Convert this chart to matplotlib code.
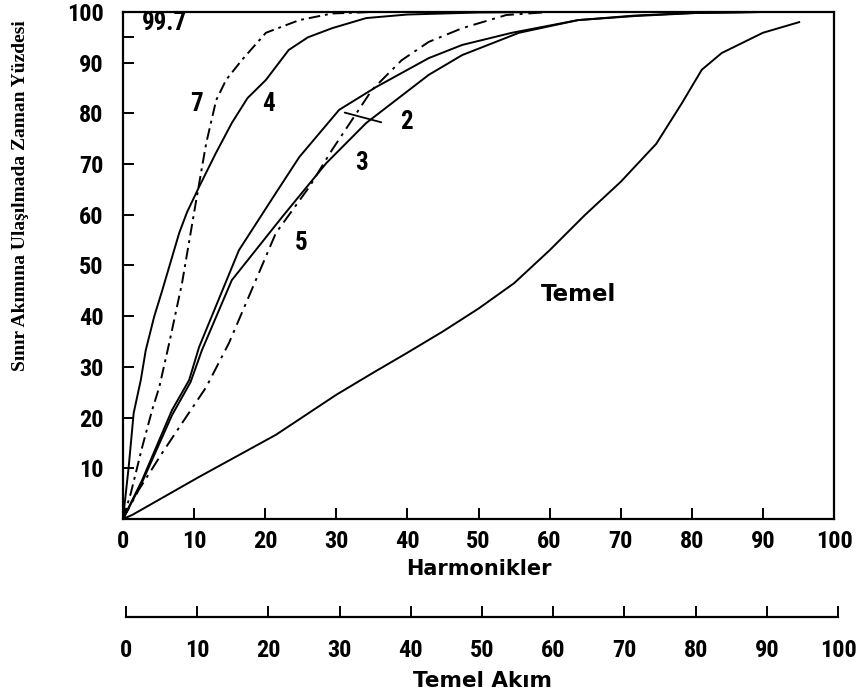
import matplotlib.pyplot as plt
from matplotlib import font_manager

# curve data (x: harmonics %, y: time %)
x7 = [0, 1.1, 2.7, 4.1, 5.1, 6.5, 8.3, 10.3, 11.7, 13.1, 14.5, 16.7, 20.1, 24.8, 29.4, 35]
y7 = [0, 5.1, 14.2, 21.5, 26, 34.7, 46.5, 62.9, 74.1, 82.6, 86.6, 90.5, 95.9, 98.4, 99.7, 100]

x4 = [0, 0.8, 1.5, 2.5, 3.2, 4.4, 5.5, 7.9, 9, 10.7, 13, 15.3, 17.5, 20.1, 23.3, 26, 29.4, 34.2, 40, 50, 60]
y4 = [0, 10.3, 20.9, 27.4, 33.3, 40, 45, 56.4, 60.5, 65.5, 72, 78.1, 83, 86.6, 92.5, 95, 96.8, 98.8, 99.5, 99.9, 100]

x2 = [0, 2.7, 6.9, 9.3, 10.7, 16.3, 21.5, 24.8, 30.4, 35.6, 43, 47.7, 54.7, 64, 72, 80.6, 90]
y2 = [0, 7.7, 21.5, 27.4, 33.9, 53, 64.3, 71.4, 80.7, 85.2, 90.9, 93.5, 95.9, 98.4, 99.2, 99.8, 100]

x3 = [0, 2.7, 6.9, 9.5, 11.1, 15.3, 22.4, 28.6, 34.2, 43, 47.7, 55.7, 64, 72, 80, 90]
y3 = [0, 7.3, 20.5, 27, 33.3, 47.1, 59.6, 70.2, 78.1, 87.6, 91.5, 95.9, 98.4, 99.3, 99.8, 100]

x5 = [0, 2.2, 5.5, 8.3, 11.7, 14.9, 18.1, 21.5, 26.2, 29.4, 32.2, 35, 39.2, 43, 47.7, 53.9, 60]
y5 = [0, 5.7, 13, 18.9, 26, 34.7, 45.2, 56.4, 65.5, 72.8, 78.7, 84.6, 90.5, 94.1, 96.8, 99.4, 100]

x_temel = [0, 1.3, 10.7, 21.5, 30, 35, 40, 45, 50, 55, 60, 65, 70, 75, 78.6, 81.4, 84.2, 90, 95.1]
y_temel = [0, 0.8, 8.3, 16.6, 24.5, 28.7, 32.8, 37, 41.5, 46.5, 53, 60, 66.5, 74, 82, 88.6, 91.9, 95.9, 98]

xticks = list(range(0, 101, 10))
yticks = list(range(10, 101, 10))

# pick a narrow bold face if one is installed
names = {f.name for f in font_manager.fontManager.ttflist}
narrow_fam = 'DejaVu Sans'
for cand in ['Liberation Sans Narrow', 'DejaVu Sans Condensed', 'Roboto Condensed',
             'Open Sans Condensed', 'Noto Sans Condensed']:
    if cand in names:
        narrow_fam = cand
        break
num_size = 17.5 if narrow_fam != 'DejaVu Sans' else 12.5

fig = plt.figure(figsize=(8.59, 6.97), dpi=100)
ax = fig.add_axes([0.1432, 0.2554, 0.8277, 0.7274])

lw = 1.4
ax.plot(x7, y7, color='black', lw=lw, linestyle=(0, (6, 2.5, 1.5, 2.5)))
ax.plot(x4, y4, color='black', lw=lw)
ax.plot(x2, y2, color='black', lw=lw)
ax.plot(x3, y3, color='black', lw=lw)
ax.plot(x5, y5, color='black', lw=lw, linestyle=(0, (7, 3, 1.5, 3)))
ax.plot(x_temel, y_temel, color='black', lw=lw)

ax.set_xlim(0, 100)
ax.set_ylim(0, 100)
ax.set_xticks(xticks)
ax.set_yticks(yticks)
ax.set_yticks([95], minor=True)
ax.tick_params(axis='both', direction='in', length=8, width=1.4, pad=8)
ax.tick_params(axis='y', which='minor', direction='in', length=8, width=1.4)
ax.tick_params(axis='y', pad=14)
for lab in ax.get_xticklabels() + ax.get_yticklabels():
    lab.set_family(narrow_fam)
    lab.set_fontweight('bold')
    lab.set_fontsize(num_size)
for sp in ax.spines.values():
    sp.set_linewidth(1.6)

ax.set_xlabel('Harmonikler', fontsize=15, fontweight='bold', labelpad=4)
fig.text(0.024, 0.72, 'Sınır Akımına Ulaşılmada Zaman Yüzdesi', rotation=90,
         ha='center', va='center', family='Liberation Serif', fontweight='bold', fontsize=14)

# curve labels
lab_kw = dict(family=narrow_fam, fontweight='bold', fontsize=num_size + 0.5,
              ha='center', va='center')
ax.text(10.4, 81.9, '7', **lab_kw)
ax.text(20.5, 81.9, '4', **lab_kw)
ax.text(39.8, 78.3, '2', **lab_kw)
ax.text(33.5, 70.2, '3', **lab_kw)
ax.text(25, 54.4, '5', **lab_kw)
ax.text(5.9, 97.9, '99.7', **lab_kw)
ax.annotate('', xy=(30.8, 80.3), xytext=(36.7, 78.1),
            arrowprops=dict(arrowstyle='-', color='black', lw=1.3))
ax.text(64, 44.2, 'Temel', fontsize=16.5, fontweight='bold', ha='center', va='center')

# second scale: Temel Akim
ax2 = fig.add_axes([0.1467, 0.1148, 0.8289, 0.0001])
for side in ['top', 'left', 'right']:
    ax2.spines[side].set_visible(False)
ax2.spines['bottom'].set_linewidth(1.6)
ax2.set_xlim(0, 100)
ax2.set_yticks([])
ax2.set_xticks(xticks)
ax2.tick_params(axis='x', direction='in', length=8, width=1.4, pad=16)
for lab in ax2.get_xticklabels():
    lab.set_family(narrow_fam)
    lab.set_fontweight('bold')
    lab.set_fontsize(num_size)
ax2.set_xlabel('Temel Akım', fontsize=15.5, fontweight='bold', labelpad=6)

fig.savefig('out.png', dpi=100)
